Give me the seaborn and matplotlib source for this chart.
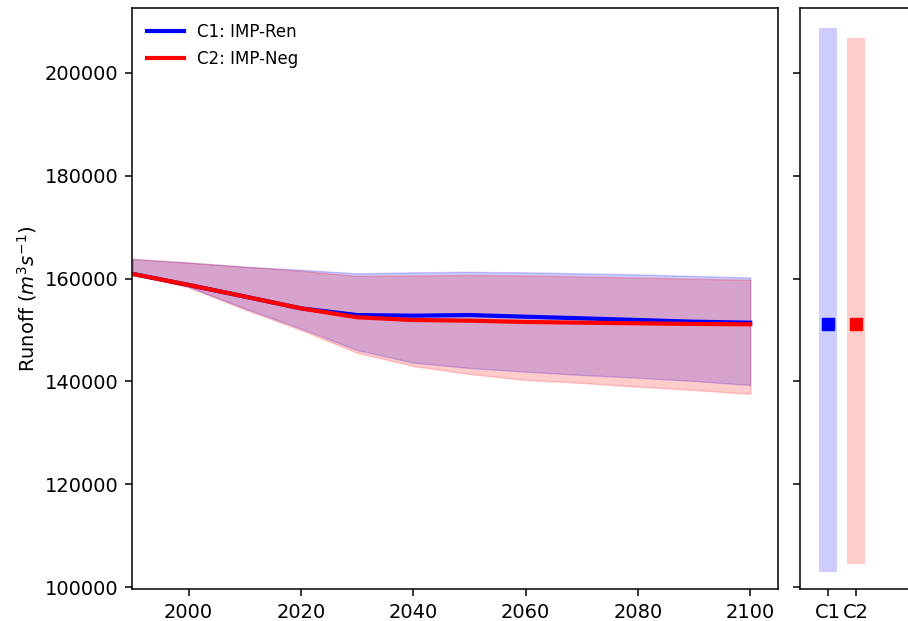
import numpy as np
import pandas as pd
import seaborn as sns
import matplotlib.pyplot as plt

# data
years = [1990, 2000, 2010, 2020, 2030, 2040, 2050, 2060, 2070, 2080, 2090, 2100]
c1_mean = [160900, 158750, 156500, 154200, 152900, 152780, 152900, 152580, 152270, 151940, 151610, 151420]
c1_low = [160900, 158400, 154200, 150300, 146100, 143650, 142620, 141900, 141260, 140730, 140090, 139310]
c1_high = [163800, 163100, 162300, 161700, 161000, 161200, 161300, 161200, 161000, 160800, 160500, 160200]
c2_mean = [160900, 158750, 156500, 154200, 152470, 151940, 151810, 151560, 151420, 151300, 151170, 151110]
c2_low = [160900, 158300, 154000, 150000, 145590, 143000, 141450, 140300, 139720, 139000, 138350, 137600]
c2_high = [163800, 163100, 162300, 161500, 160500, 160600, 160700, 160600, 160400, 160200, 159950, 159750]

scen = ['C1: IMP-Ren', 'C2: IMP-Neg']
short = ['C1', 'C2']
colors = ['blue', 'red']
end_low = [103070, 104540]
end_high = [208690, 206760]
end_mid = [151100, 151100]

df = pd.DataFrame({
    'year': years * 2,
    'runoff': c1_mean + c2_mean,
    'scenario': [scen[0]] * len(years) + [scen[1]] * len(years),
})

fig = plt.figure(figsize=(9.08, 6.21), dpi=100)
ax = fig.add_axes([0.1459, 0.0515, 0.7112, 0.9351])
ax2 = fig.add_axes([0.881, 0.0515, 0.1233, 0.9351], sharey=ax)

ax.fill_between(years, c1_low, c1_high, color='blue', alpha=0.2)
ax.fill_between(years, c2_low, c2_high, color='red', alpha=0.2)
sns.lineplot(data=df, x='year', y='runoff', hue='scenario', palette=dict(zip(scen, colors)),
             linewidth=3, ax=ax)

ax.set_xlim(1990, 2105)
ax.set_ylim(99670, 212500)
ax.set_xticks([2000, 2020, 2040, 2060, 2080, 2100])
ax.set_yticks(np.arange(100000, 200001, 20000))
ax.set_xlabel('')
ax.set_ylabel(r'Runoff ($m^3s^{-1}$)', fontsize=14)
ax.legend(loc='upper left', frameon=False, fontsize=12, handlelength=2.2)

x2 = [1, 2]
ax2.bar(x2, np.array(end_high) - np.array(end_low), bottom=end_low, width=0.62,
        color=colors, alpha=0.2, linewidth=0)
for xi, yi, c in zip(x2, end_mid, colors):
    ax2.plot(xi, yi, 's', color=c, markersize=9)
ax2.set_xlim(0, 4)
ax2.set_xticks(x2)
ax2.set_xticklabels(short)
ax2.tick_params(axis='y', labelleft=False)

for a in (ax, ax2):
    a.tick_params(labelsize=14, length=5, width=1.1, pad=5)
    for s in a.spines.values():
        s.set_linewidth(1.1)

fig.savefig('out.png', dpi=100)
